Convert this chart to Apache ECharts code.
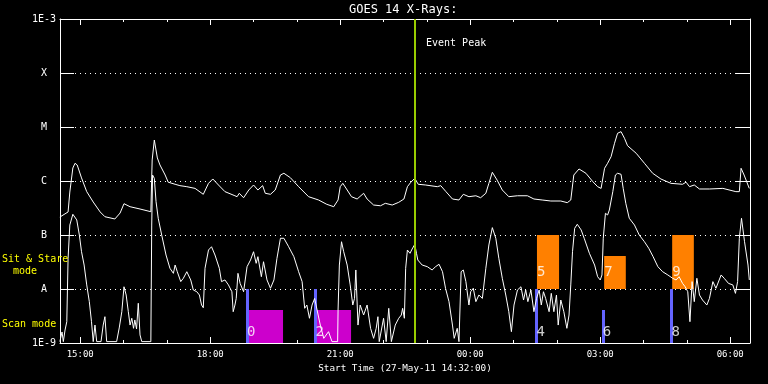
<!DOCTYPE html>
<html><head><meta charset="utf-8">
<script src="https://cdn.jsdelivr.net/npm/echarts@6/dist/echarts.min.js"></script>
<style>html,body{margin:0;padding:0;background:#000}#c{width:768px;height:384px}</style>
</head><body><div id="c"></div>
<script>
// Time values are decimal hours counted from 00:00 on 27-May-11 (24+ = 28-May)
const timeStart = 14 + 32 / 60;   // 14:32
const timeEnd = 30.456;           // ~06:27 next day
const xMajorHours = [15, 18, 21, 24, 27, 30];
const xTickLabels = ['15:00', '18:00', '21:00', '00:00', '03:00', '06:00'];
const xMinorHours = [15,16,17,18,19,20,21,22,23,24,25,26,27,28,29,30];
const yTickLabels = ['1E-9', 'A', 'B', 'C', 'M', 'X', '1E-3'];

// GOES 14 long channel (1-8 A), [hour, flux W/m2]
const goesLong = [
[14.53,2.15e-7],[14.72,2.67e-7],[14.76,6.25e-7],[14.83,1.74e-6],[14.88,2.13e-6],[14.93,1.98e-6],[15.03,1.14e-6],[15.15,6.35e-7],[15.30,4.08e-7],[15.46,2.67e-7],
[15.57,2.18e-7],[15.80,1.98e-7],[15.92,2.55e-7],[16.01,3.80e-7],[16.15,3.34e-7],[16.38,3.03e-7],[16.63,2.70e-7],[16.66,2.45e-6],[16.71,5.74e-6],[16.78,2.67e-6],
[16.84,1.98e-6],[16.96,1.29e-6],[17.03,9.5e-7],[17.19,8.7e-7],[17.30,8.2e-7],[17.46,7.85e-7],[17.65,7.3e-7],[17.84,5.67e-7],[17.96,9.05e-7],[18.06,1.09e-6],
[18.19,8.43e-7],[18.34,6.35e-7],[18.57,5.33e-7],[18.62,5.12e-7],[18.67,5.92e-7],[18.77,4.90e-7],[18.89,6.81e-7],[19.00,8.43e-7],[19.10,6.81e-7],[19.21,8.2e-7],
[19.27,5.92e-7],[19.39,5.67e-7],[19.50,6.81e-7],[19.62,1.29e-6],[19.70,1.39e-6],[19.85,1.15e-6],[20.04,7.85e-7],[20.27,5.12e-7],[20.50,4.45e-7],[20.69,3.70e-7],
[20.85,3.34e-7],[20.95,4.45e-7],[21.00,7.85e-7],[21.06,9.05e-7],[21.16,6.81e-7],[21.26,5.12e-7],[21.39,4.64e-7],[21.54,5.92e-7],[21.62,4.64e-7],[21.77,3.59e-7],
[21.93,3.48e-7],[22.04,3.86e-7],[22.20,3.59e-7],[22.35,4.03e-7],[22.47,4.64e-7],[22.55,7.85e-7],[22.63,9.5e-7],[22.72,1.12e-6],[22.80,8.7e-7],[22.97,8.43e-7],
[23.24,7.85e-7],[23.32,8.2e-7],[23.44,6.35e-7],[23.59,4.64e-7],[23.74,4.45e-7],[23.84,5.67e-7],[23.97,5.12e-7],[24.13,5.33e-7],[24.24,4.90e-7],[24.36,5.92e-7],
[24.43,9.05e-7],[24.51,1.45e-6],[24.62,1.04e-6],[24.74,6.81e-7],[24.89,5.12e-7],[25.09,5.33e-7],[25.32,5.33e-7],[25.47,4.64e-7],[25.66,4.45e-7],[25.86,4.26e-7],
[26.09,4.26e-7],[26.24,3.97e-7],[26.32,4.45e-7],[26.39,1.29e-6],[26.51,1.67e-6],[26.67,1.39e-6],[26.83,9.7e-7],[26.94,7.85e-7],[27.02,7.3e-7],[27.10,1.72e-6],
[27.17,2.13e-6],[27.25,2.82e-6],[27.33,5.0e-6],[27.40,7.65e-6],[27.48,8.2e-6],[27.56,6.17e-6],[27.63,4.5e-6],[27.83,3.26e-6],[28.02,2.13e-6],[28.21,1.39e-6],
[28.40,1.09e-6],[28.63,9.05e-7],[28.90,8.7e-7],[28.98,9.5e-7],[29.06,7.85e-7],[29.17,8.43e-7],[29.29,7.11e-7],[29.52,7.11e-7],[29.83,7.3e-7],[30.13,6.35e-7],
[30.21,6.35e-7],[30.25,1.72e-6],[30.32,1.29e-6],[30.44,7.3e-7]
];

// GOES 14 short channel (0.5-4 A), [hour, flux W/m2]
const goesShort = [
[14.53,1.06e-9],[14.58,1.60e-9],[14.61,1.06e-9],[14.65,1.74e-9],[14.69,2.48e-9],[14.72,3.70e-8],[14.76,1.53e-7],[14.83,2.42e-7],[14.86,2.63e-7],[14.92,1.90e-7],
[14.98,1.0e-7],[15.03,4.90e-8],[15.09,2.78e-8],[15.15,1.19e-8],[15.21,5.83e-9],[15.26,2.48e-9],[15.30,1.06e-9],[15.34,2.15e-9],[15.38,1.06e-9],[15.48,1.06e-9],
[15.53,2.15e-9],[15.57,3.07e-9],[15.61,1.06e-9],[15.84,1.06e-9],[15.90,1.90e-9],[15.96,3.80e-9],[16.01,1.10e-8],[16.06,7.74e-9],[16.11,3.80e-9],[16.15,2.15e-9],
[16.19,2.87e-9],[16.23,1.87e-9],[16.26,2.67e-9],[16.30,1.82e-9],[16.34,5.44e-9],[16.38,1.41e-9],[16.42,1.06e-9],[16.63,1.06e-9],[16.65,1.53e-7],[16.67,1.29e-6],
[16.71,1.12e-6],[16.75,4.14e-7],[16.80,2.04e-7],[16.88,1.0e-7],[16.98,4.26e-8],[17.07,2.42e-8],[17.15,1.95e-8],[17.19,2.78e-8],[17.24,2.09e-8],[17.32,1.37e-8],
[17.38,1.58e-8],[17.46,2.09e-8],[17.55,1.47e-8],[17.61,9.58e-9],[17.69,8.9e-9],[17.75,7.74e-9],[17.80,5.05e-9],[17.84,4.5e-9],[17.88,2.42e-8],[17.96,5.27e-8],
[18.03,6.06e-8],[18.11,4.26e-8],[18.21,2.42e-8],[18.26,1.37e-8],[18.34,1.47e-8],[18.42,1.19e-8],[18.50,8.9e-9],[18.53,3.80e-9],[18.57,5.05e-9],[18.60,6.7e-9],
[18.64,1.95e-8],[18.69,1.27e-8],[18.77,8.9e-9],[18.85,2.59e-8],[18.93,3.44e-8],[19.00,4.90e-8],[19.06,2.99e-8],[19.10,3.97e-8],[19.18,1.69e-8],[19.23,3.20e-8],
[19.31,1.47e-8],[19.39,1.03e-8],[19.47,1.47e-8],[19.54,3.70e-8],[19.62,8.7e-8],[19.70,8.7e-8],[19.81,6.06e-8],[19.93,3.97e-8],[20.04,2.09e-8],[20.12,1.37e-8],
[20.18,4.39e-9],[20.23,5.05e-9],[20.29,2.87e-9],[20.35,5.05e-9],[20.41,6.7e-9],[20.49,3.30e-9],[20.54,2.15e-9],[20.62,1.22e-9],[20.73,1.62e-9],[20.81,1.06e-9],
[20.94,1.06e-9],[20.95,4.08e-9],[20.98,2.78e-8],[21.03,7.5e-8],[21.08,4.90e-8],[21.16,2.78e-8],[21.23,1.19e-8],[21.29,5.05e-9],[21.33,6.7e-9],[21.36,2.25e-8],
[21.41,2.15e-9],[21.46,5.05e-9],[21.54,3.30e-9],[21.62,5.05e-9],[21.70,1.87e-9],[21.77,1.22e-9],[21.83,1.87e-9],[21.87,3.07e-9],[21.90,1.06e-9],[22.00,2.87e-9],
[22.06,1.06e-9],[22.12,4.39e-9],[22.18,1.06e-9],[22.27,2.15e-9],[22.35,2.87e-9],[22.41,3.30e-9],[22.44,4.39e-9],[22.48,2.87e-9],[22.51,2.42e-8],[22.55,5.27e-8],
[22.61,4.58e-8],[22.66,5.51e-8],[22.72,6.7e-8],[22.76,4.58e-8],[22.79,3.44e-8],[22.89,2.78e-8],[23.01,2.59e-8],[23.12,2.25e-8],[23.20,2.59e-8],[23.28,2.87e-8],
[23.36,2.09e-8],[23.43,1.03e-8],[23.51,5.83e-9],[23.59,2.15e-9],[23.63,1.22e-9],[23.70,1.87e-9],[23.74,1.06e-9],[23.77,1.06e-9],[23.79,2.09e-8],[23.84,2.25e-8],
[23.90,1.37e-8],[23.97,5.05e-9],[24.01,8.9e-9],[24.07,1.03e-8],[24.13,5.83e-9],[24.20,7.74e-9],[24.28,6.7e-9],[24.36,2.42e-8],[24.43,6.53e-8],[24.51,1.37e-7],
[24.59,8.7e-8],[24.66,3.70e-8],[24.74,1.58e-8],[24.82,7.74e-9],[24.89,3.80e-9],[24.95,1.62e-9],[25.01,5.05e-9],[25.09,9.58e-9],[25.17,1.10e-8],[25.23,6.25e-9],
[25.28,9.58e-9],[25.33,5.83e-9],[25.40,9.58e-9],[25.47,3.80e-9],[25.53,6.7e-9],[25.59,9.58e-9],[25.64,5.05e-9],[25.69,8.9e-9],[25.74,6.7e-9],[25.82,3.80e-9],
[25.87,8.3e-9],[25.93,3.80e-9],[25.99,7.74e-9],[26.03,2.15e-9],[26.09,6.25e-9],[26.16,3.80e-9],[26.23,1.87e-9],[26.28,3.30e-9],[26.32,1.19e-8],[26.36,4.90e-8],
[26.41,1.33e-7],[26.47,1.58e-7],[26.56,1.24e-7],[26.63,8.7e-8],[26.75,4.58e-8],[26.87,2.78e-8],[26.94,1.69e-8],[27.00,1.47e-8],[27.04,1.82e-8],[27.07,8.7e-8],
[27.12,2.52e-7],[27.17,2.35e-7],[27.21,2.90e-7],[27.29,6.35e-7],[27.35,1.29e-6],[27.40,1.39e-6],[27.48,1.33e-6],[27.53,7.3e-7],[27.59,3.86e-7],[27.67,2.04e-7],
[27.79,1.53e-7],[27.90,1.0e-7],[28.02,7.5e-8],[28.12,5.67e-8],[28.22,3.97e-8],[28.33,2.59e-8],[28.44,2.09e-8],[28.56,1.82e-8],[28.67,1.58e-8],[28.75,1.47e-8],
[28.82,1.69e-8],[28.90,1.27e-8],[28.96,1.10e-8],[29.02,8.9e-9],[29.07,2.48e-9],[29.12,1.37e-8],[29.17,5.83e-9],[29.23,1.58e-8],[29.29,7.74e-9],[29.36,6.25e-9],
[29.46,5.05e-9],[29.52,6.7e-9],[29.60,1.37e-8],[29.67,1.03e-8],[29.79,1.82e-8],[29.86,1.58e-8],[29.96,1.27e-8],[30.06,1.19e-8],[30.12,8.3e-9],[30.17,1.37e-8],
[30.21,8.7e-8],[30.26,2.04e-7],[30.33,7.5e-8],[30.41,2.78e-8],[30.44,1.47e-8]
];

// Scan-mode observations (even numbers)
const scanNumbers = ['0', '2', '4', '6', '8'];
const scanTimes = [18.85, 20.43, 25.53, 27.06, 28.645];
const scanBarTops = [1e-8, 1e-8, 1e-8, 4.08e-9, 1e-8];
const scanBoxNumbers = ['0', '2'];
const scanBoxStart = [18.87, 20.46];
const scanBoxEnd = [19.68, 21.25];
const scanBoxTop = 4.08e-9;
const scanLabelLevel = 1.6e-9;

// Sit & Stare observations (odd numbers)
const stareNumbers = ['5', '7', '9'];
const stareStart = [25.54, 27.09, 28.66];
const stareEnd = [26.05, 27.59, 29.16];
const stareTop = [1e-7, 4.08e-8, 1e-7];
const stareBottom = 1e-8;
const stareLabelLevel = 2.06e-8;

const eventPeakHour = 22.725;

const FONT = 'DejaVu Sans Mono';
const YELLOW = '#ffff00';
const WHITE = '#ffffff';

function xAxisBase(position, ticks, len, showLine) {
  return {
    type: 'value', position: position, min: timeStart, max: timeEnd,
    axisLine: { show: showLine, onZero: false, lineStyle: { color: WHITE, width: 1 } },
    axisTick: { show: true, inside: true, length: len, customValues: ticks, lineStyle: { color: WHITE, width: 1 } },
    axisLabel: { show: false },
    splitLine: { show: false }
  };
}

const xMain = xAxisBase('bottom', xMajorHours, 6, true);
xMain.axisLabel = {
  show: true, customValues: xMajorHours, color: WHITE, fontFamily: FONT, fontSize: 9, margin: 7,
  formatter: function (v) { const i = xMajorHours.indexOf(Math.round(v)); return i >= 0 ? xTickLabels[i] : ''; }
};
xMain.name = 'Start Time (27-May-11 14:32:00)';
xMain.nameLocation = 'middle';
xMain.nameGap = 20;
xMain.nameTextStyle = { color: WHITE, fontFamily: FONT, fontSize: 9.3 };

function yAxisBase(position, showLabel) {
  return {
    type: 'log', logBase: 10, position: position, min: 1e-9, max: 1e-3, splitNumber: 6,
    axisLine: { show: true, lineStyle: { color: WHITE, width: 1 } },
    axisTick: { show: true, inside: true, length: 14, lineStyle: { color: WHITE, width: 1 } },
    minorTick: { show: false },
    axisLabel: {
      show: showLabel, color: WHITE, fontFamily: FONT, fontSize: 10, align: 'center', margin: 16,
      formatter: function (v) { const k = Math.round(Math.log10(v)) + 9; return yTickLabels[k] || ''; }
    },
    splitLine: { show: showLabel, lineStyle: { color: WHITE, width: 1, type: [1, 4] } }
  };
}

const boxAreas = [];
scanBoxNumbers.forEach(function (n, i) {
  boxAreas.push([{ coord: [scanBoxStart[i], 1e-9], itemStyle: { color: '#cc00cc', opacity: 1 } },
                 { coord: [scanBoxEnd[i], scanBoxTop] }]);
});
stareNumbers.forEach(function (n, i) {
  boxAreas.push([{ coord: [stareStart[i], stareBottom], itemStyle: { color: '#ff8000', opacity: 1 } },
                 { coord: [stareEnd[i], stareTop[i]] }]);
});

const scanBars = scanTimes.map(function (t, i) {
  return [{ coord: [t, 1e-9] }, { coord: [t, scanBarTops[i]] }];
});

const numberLabels = [];
scanNumbers.forEach(function (n, i) { numberLabels.push([scanTimes[i], scanLabelLevel, n]); });
stareNumbers.forEach(function (n, i) { numberLabels.push([stareStart[i], stareLabelLevel, n]); });

const titleStyle = function (size, color) {
  return { color: color, fontFamily: FONT, fontSize: size, fontWeight: 'normal', lineHeight: size };
};

const option = {
  backgroundColor: '#000000',
  animation: false,
  title: [
    { text: 'GOES 14 X-Rays:', left: 349, top: 3.5, padding: 0, textStyle: titleStyle(12, WHITE) },
    { text: 'Event Peak', left: 426, top: 38, padding: 0, textStyle: titleStyle(10, WHITE) },
    { text: 'Sit & Stare', left: 2, top: 254, padding: 0, textStyle: titleStyle(10, YELLOW) },
    { text: 'mode', left: 13, top: 266, padding: 0, textStyle: titleStyle(10, YELLOW) },
    { text: 'Scan mode', left: 2, top: 319, padding: 0, textStyle: titleStyle(10, YELLOW) }
  ],
  grid: { left: 60, right: 18, top: 19, bottom: 41, containLabel: false },
  xAxis: [
    xMain,
    xAxisBase('bottom', xMinorHours, 3, false),
    xAxisBase('top', xMajorHours, 6, true),
    xAxisBase('top', xMinorHours, 3, false)
  ],
  yAxis: [yAxisBase('left', true), yAxisBase('right', false)],
  series: [
    {
      name: 'observations', type: 'line', data: [], xAxisIndex: 0, yAxisIndex: 0, z: 1,
      markArea: { silent: true, z: 1, label: { show: false }, data: boxAreas },
      markLine: {
        silent: true, z: 1, symbol: ['none', 'none'], label: { show: false },
        lineStyle: { color: '#6464ff', width: 3, type: 'solid' }, data: scanBars
      }
    },
    {
      name: 'numbers', type: 'scatter', data: numberLabels, xAxisIndex: 0, yAxisIndex: 0, z: 2,
      symbolSize: 0, silent: true,
      label: {
        show: true, position: 'right', distance: 0, color: WHITE, fontFamily: FONT, fontSize: 14,
        formatter: function (p) { return p.value[2]; }
      }
    },
    {
      name: 'GOES 14 1-8 A', type: 'line', data: goesLong, xAxisIndex: 0, yAxisIndex: 0, z: 3,
      showSymbol: false, symbol: 'none', lineStyle: { color: WHITE, width: 1 }, clip: true
    },
    {
      name: 'GOES 14 0.5-4 A', type: 'line', data: goesShort, xAxisIndex: 0, yAxisIndex: 0, z: 3,
      showSymbol: false, symbol: 'none', lineStyle: { color: WHITE, width: 1 }, clip: true
    },
    {
      name: 'event peak', type: 'line', data: [], xAxisIndex: 0, yAxisIndex: 0, z: 5,
      markLine: {
        silent: true, z: 5, symbol: ['none', 'none'], label: { show: false },
        lineStyle: { color: '#99cc00', width: 2, type: 'solid' },
        data: [{ xAxis: eventPeakHour }]
      }
    }
  ]
};

const chart = echarts.init(document.getElementById('c'), null, { renderer: 'canvas' });
chart.setOption(option);
</script>
</body></html>
